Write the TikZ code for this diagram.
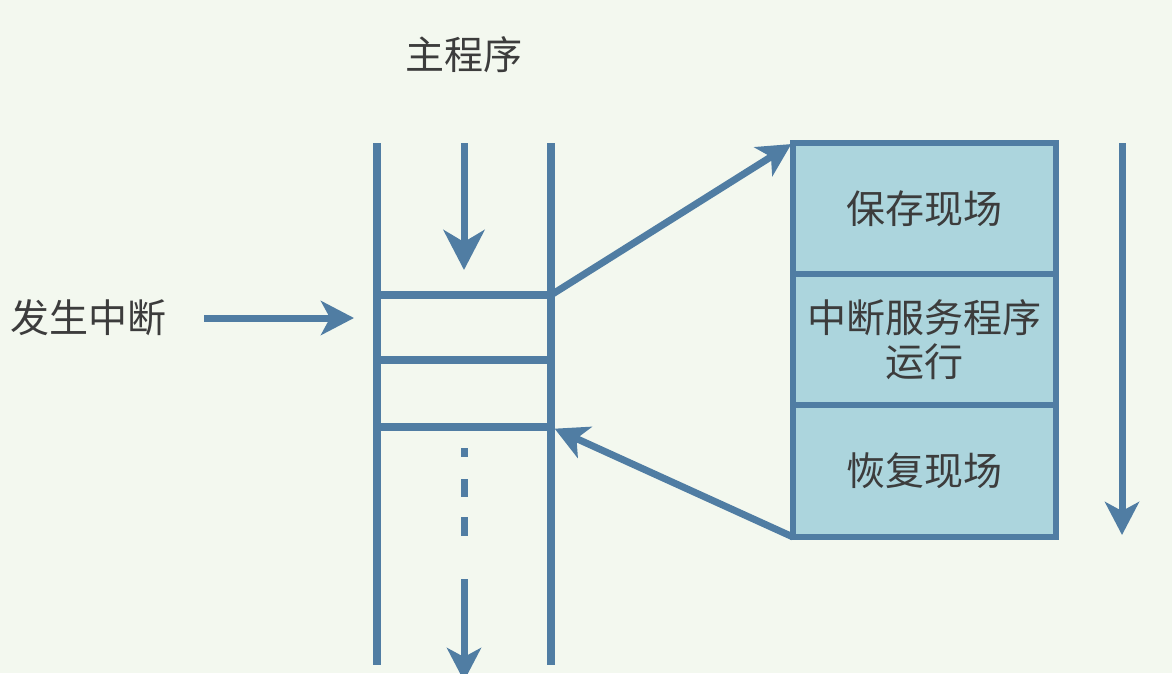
\documentclass[tikz,border=0pt]{standalone}
\usepackage{fontspec}
\newfontfamily\cjk{Noto Sans CJK SC}
\usetikzlibrary{arrows.meta}
\definecolor{bgcol}{RGB}{243,248,239}
\definecolor{linecol}{RGB}{80,125,163}
\definecolor{boxcol}{RGB}{172,213,221}
\definecolor{txtcol}{RGB}{60,60,60}
\begin{document}
\begin{tikzpicture}[x=1pt,y=-1pt,
    line/.style={draw=linecol,line width=7.5pt},
    arr/.style={draw=linecol,line width=7pt,-{Stealth[length=33pt,width=34pt,inset=9pt]}},
    lbl/.style={text=txtcol,font=\cjk\fontsize{39}{44}\selectfont,align=center,inner sep=0pt},
    slot/.style={line,minimum width=174pt,inner sep=0pt,outer sep=0pt},
    part/.style={lbl,draw=linecol,line width=6pt,fill=boxcol,minimum width=263pt,outer sep=0pt}]
  \fill [bgcol] (0,0) rectangle (1172,673);
  \useasboundingbox (0,0) rectangle (1172,673);
  \clip (0,0) rectangle (1172,673);
  % main program column
  \coordinate (lt) at (377,143);
  \coordinate (lb) at (377,665);
  \coordinate (rt) at (551,143);
  \coordinate (rb) at (551,665);
  \coordinate (mainin) at (464,143);
  \coordinate (gaptop) at (464,448);
  \coordinate (gapend) at (464,536);
  \coordinate (mainout) at (464,579);
  \coordinate (mainend) at (464,681);
  \draw [line] (lt) -- (lb);
  \draw [line] (rt) -- (rb);
  \node [slot,minimum height=65pt] (slot1) at (464,327.5) {};
  \node [slot,minimum height=67pt] (slot2) at (464,393.5) {};
  \node [lbl] (main) at (464,55) {主程序};
  \node [lbl] (irq) at (88,318) {发生中断};
  % interrupt service routine
  \node [part,minimum height=131pt] (save) at (924.5,208.5) {保存现场};
  \node [part,minimum height=131pt] (serve) at (924.5,339.5) {中断服务程序\\运行};
  \node [part,minimum height=132pt] (restore) at (924.5,471) {恢复现场};
  \coordinate (flowtop) at (1122,143);
  \coordinate (flowend) at (1122,535);
  \draw [arr,-{Stealth[length=40pt,width=41pt,inset=12pt]},shorten >=25pt] (mainin) -- (slot1.north);
  \draw [arr,shorten <=38pt,shorten >=23pt] (irq.east) -- (slot1.west |- irq.east);
  \draw [arr,shorten >=2pt] (slot1.north east) -- (save.north west);
  \draw [arr,shorten >=4pt] (restore.south west) -- (slot2.south east);
  \draw [arr] (flowtop) -- (flowend);
  \draw [draw=linecol,line width=7pt,dash pattern=on 9pt off 22pt on 18pt off 20pt on 19pt off 20pt] (gaptop) -- (gapend);
  \draw [arr] (mainout) -- (mainend);
\end{tikzpicture}
\end{document}
